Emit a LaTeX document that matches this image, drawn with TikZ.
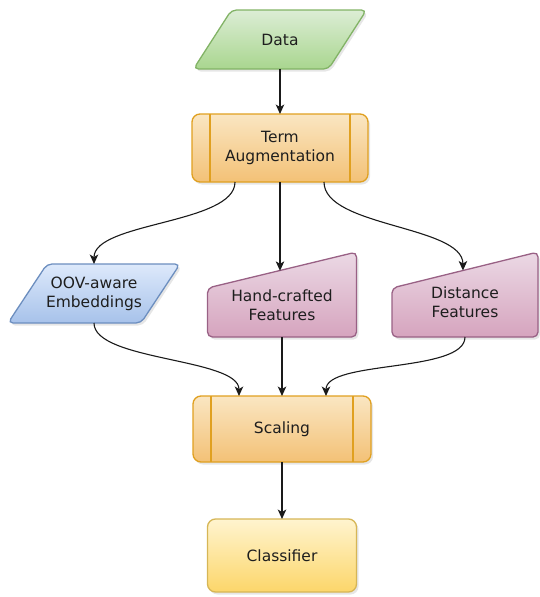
\documentclass[tikz,border=0pt]{standalone}
\usepackage{fontspec}
\setmainfont{DejaVu Sans}
\usetikzlibrary{arrows.meta,shadows,calc,backgrounds}
\definecolor{cText}{HTML}{1E1E1E}
\definecolor{cGreenT}{HTML}{DCEDD5}
\definecolor{cGreenB}{HTML}{A9D68F}
\definecolor{cGreenD}{HTML}{82B366}
\definecolor{cBlueT}{HTML}{DDE9FB}
\definecolor{cBlueB}{HTML}{A7C2EA}
\definecolor{cBlueD}{HTML}{6C8EBF}
\definecolor{cPinkT}{HTML}{EBD9E5}
\definecolor{cPinkB}{HTML}{D6A4BE}
\definecolor{cPinkD}{HTML}{996185}
\definecolor{cOrT}{HTML}{FAE6C2}
\definecolor{cOrB}{HTML}{F3C176}
\definecolor{cOrD}{HTML}{E0A020}
\definecolor{cYeT}{HTML}{FFF4CF}
\definecolor{cYeB}{HTML}{FCD66A}
\definecolor{cYeD}{HTML}{D6B656}
\definecolor{cLine}{HTML}{1A1A1A}
\begin{document}
\begin{tikzpicture}[x=1pt,y=-1pt,
  font=\fontsize{15.5}{19}\selectfont,
  shadowed/.style={drop shadow={shadow xshift=2pt,shadow yshift=-2.5pt,opacity=0.2}},
  bound/.style={inner sep=0pt,outer sep=0pt,text=cText,align=center},
  shapebase/.style={line width=1.3pt,rounded corners=5pt,shadowed},
  greenshape/.style={shapebase,draw=cGreenD,top color=cGreenT,bottom color=cGreenB},
  blueshape/.style={shapebase,draw=cBlueD,top color=cBlueT,bottom color=cBlueB},
  pinkshape/.style={shapebase,draw=cPinkD,top color=cPinkT,bottom color=cPinkB},
  proc/.style={bound,draw=cOrD,line width=1.3pt,rounded corners=8pt,
    top color=cOrT,bottom color=cOrB,shadowed},
  procline/.style={draw=cOrD,line width=1.3pt},
  yellowbox/.style={bound,draw=cYeD,line width=1.3pt,rounded corners=8pt,
    top color=cYeT,bottom color=cYeB,shadowed,minimum width=149pt,minimum height=73pt},
  conn/.style={draw=cLine,line width=1.1pt,-{Stealth[length=9.5pt,width=8.5pt,inset=2.5pt]}}
]
\useasboundingbox (0,0) rectangle (540,597);

% nodes
\node[bound,minimum width=173pt,minimum height=59pt] (data) at (280,39.5) {Data};
\node[proc,minimum width=176pt,minimum height=68pt] (aug) at (280,148) {Term\\Augmentation};
\node[bound,minimum width=172pt,minimum height=59pt] (oov) at (94,293.5) {OOV-aware\\Embeddings};
\node[bound,minimum width=149pt,minimum height=85pt] (hand) at (282,294.5) {};
\node[bound] (handt) at (282,305) {Hand-crafted\\Features};
\node[bound,minimum width=146pt,minimum height=85pt] (dist) at (465,294.5) {};
\node[bound] (distt) at (465,302) {Distance\\Features};
\node[proc,minimum width=178pt,minimum height=66pt] (scal) at (282,429) {Scaling};
\node[yellowbox] (cls) at (282,555.5) {Classifier};

% inner lines of process boxes
\draw[procline] ([xshift=18pt]aug.north west) -- ([xshift=18pt]aug.south west);
\draw[procline] ([xshift=-18pt]aug.north east) -- ([xshift=-18pt]aug.south east);
\draw[procline] ([xshift=18pt]scal.north west) -- ([xshift=18pt]scal.south west);
\draw[procline] ([xshift=-18pt]scal.north east) -- ([xshift=-18pt]scal.south east);

% shapes behind text
\begin{scope}[on background layer]
\draw[greenshape] ([xshift=38pt]data.north west) -- (data.north east)
  -- ([xshift=-38pt]data.south east) -- (data.south west) -- cycle;
\draw[blueshape] ([xshift=39pt]oov.north west) -- (oov.north east)
  -- ([xshift=-39pt]oov.south east) -- (oov.south west) -- cycle;
\draw[pinkshape] ([yshift=-36pt]hand.north west) -- (hand.north east)
  -- (hand.south east) -- (hand.south west) -- cycle;
\draw[pinkshape] ([yshift=-36pt]dist.north west) -- (dist.north east)
  -- (dist.south east) -- (dist.south west) -- cycle;
\end{scope}

% entry points on slanted tops
\coordinate (handin) at ($([yshift=-36pt]hand.north west)!0.4765!(hand.north east)$);
\coordinate (distin) at ($([yshift=-36pt]dist.north west)!0.486!(dist.north east)$);

% connectors
\draw[conn] (data.south) -- (aug.north);
\draw[conn] ([xshift=-45pt]aug.south) .. controls +(0,42) and +(0,-42) .. (oov.north);
\draw[conn] (aug.south) -- (aug.south |- handin);
\draw[conn] ([xshift=44pt]aug.south) .. controls +(0,45) and +(0,-45) .. (distin);
\draw[conn] (oov.south) .. controls +(0,38) and +(0,-38) .. ([xshift=-43pt]scal.north);
\draw[conn] (hand.south) -- (scal.north);
\draw[conn] (dist.south) .. controls +(0,36) and +(0,-36) .. ([xshift=44pt]scal.north);
\draw[conn] (scal.south) -- (cls.north);
\end{tikzpicture}
\end{document}
